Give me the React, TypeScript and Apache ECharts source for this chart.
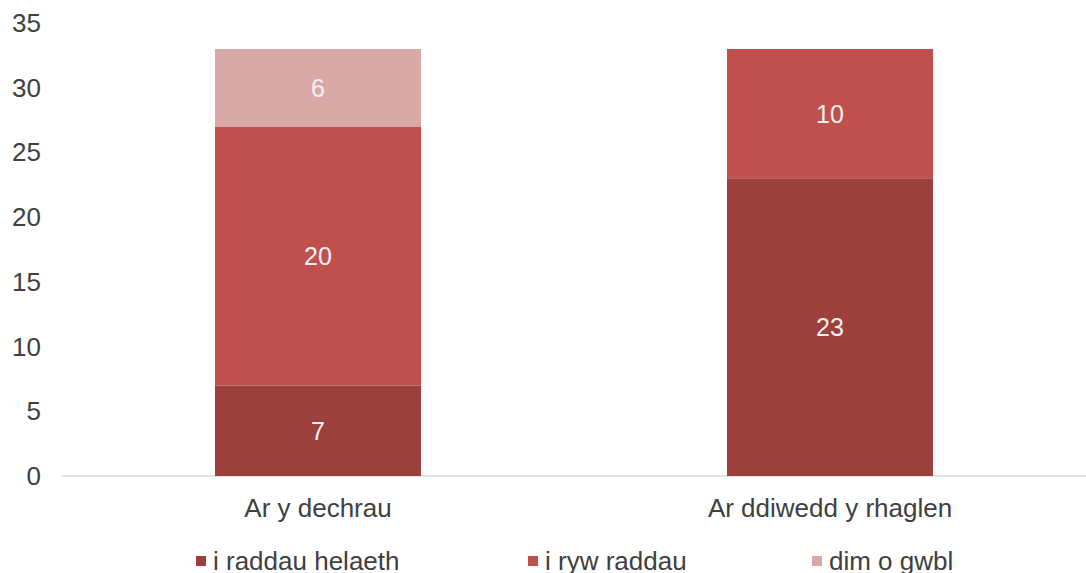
import React, { useEffect, useRef } from "react";
import * as echarts from "echarts";

const categories = ["Ar y dechrau", "Ar ddiwedd y rhaglen"];
const seriesNames = ["i raddau helaeth", "i ryw raddau", "dim o gwbl"];
const valuesHelaeth = [7, 23];
const valuesRywRaddau = [20, 10];
const valuesDimOGwbl = [6, null];
const yTicks = { min: 0, max: 35, interval: 5 };
const colors = ["#9C403E", "#C0504D", "#D9A9A8"];

const FONT = "Liberation Sans, Arial, sans-serif";

export default function App() {
  const ref = useRef<HTMLDivElement>(null);
  useEffect(() => {
    if (!ref.current) return;
    const chart = echarts.init(ref.current, undefined, { renderer: "svg" });
    const data = [valuesHelaeth, valuesRywRaddau, valuesDimOGwbl];
    const legendLefts = [196, 528, 812];
    chart.setOption({
      animation: false,
      textStyle: { fontFamily: FONT },
      grid: { left: 62, right: -11, top: 23, bottom: 97 },
      legend: seriesNames.map((n, i) => ({
        data: [n],
        left: legendLefts[i],
        top: 548,
        padding: 0,
        icon: "rect",
        itemWidth: 10,
        itemHeight: 10,
        selectedMode: false,
        textStyle: { fontSize: 26, color: "#404040", fontFamily: FONT, padding: [0, 0, 0, 2] },
      })),
      xAxis: {
        type: "category",
        data: categories,
        axisLine: { lineStyle: { color: "#D9D9D9", width: 1.5 } },
        axisTick: { show: false },
        axisLabel: { fontSize: 26, color: "#404040", margin: 19, fontFamily: FONT },
      },
      yAxis: {
        type: "value",
        min: yTicks.min,
        max: yTicks.max,
        interval: yTicks.interval,
        splitLine: { show: false },
        axisLine: { show: false },
        axisTick: { show: false },
        axisLabel: { fontSize: 26, color: "#404040", margin: 21, fontFamily: FONT },
      },
      series: seriesNames.map((n, i) => ({
        name: n,
        type: "bar",
        stack: "total",
        barWidth: 206,
        data: data[i],
        itemStyle: { color: colors[i] },
        label: {
          show: true,
          position: "inside",
          color: "#F4F0F0",
          fontSize: 25,
          fontFamily: FONT,
        },
      })),
    });
    return () => chart.dispose();
  }, []);
  return (
    <div
      ref={ref}
      style={{ position: "fixed", left: 0, top: 0, width: 1086, height: 573, background: "#fff" }}
    />
  );
}
